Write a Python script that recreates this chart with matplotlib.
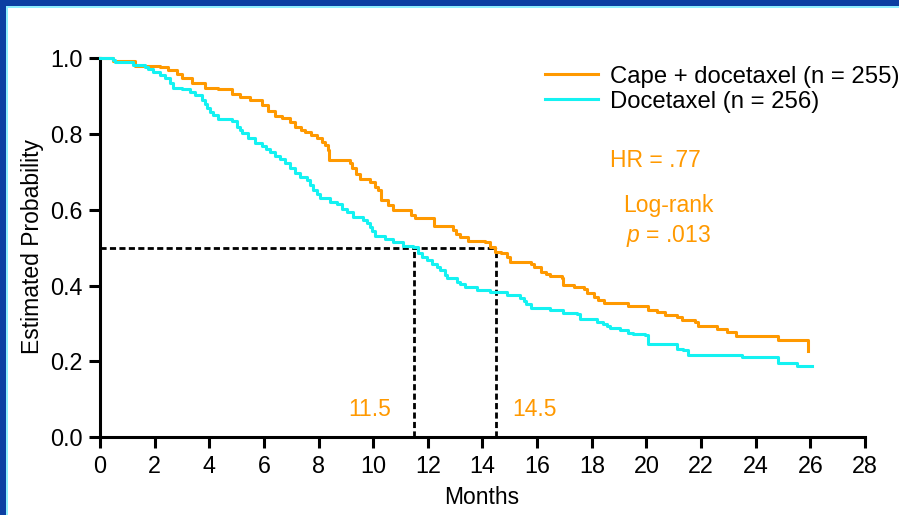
import matplotlib
matplotlib.use("Agg")
import matplotlib.pyplot as plt
from matplotlib.patches import Rectangle

plt.rcParams["font.family"] = ["Liberation Sans", "DejaVu Sans"]
plt.rcParams["mathtext.fontset"] = "custom"
plt.rcParams["mathtext.rm"] = "Liberation Sans"
plt.rcParams["mathtext.it"] = "Liberation Sans:italic"

# Kaplan-Meier step data (months, estimated probability)
cape_months = [0, 0.48, 1.28, 2.20, 2.49, 2.82, 3.00, 3.37, 3.84, 4.32,
               4.83, 5.12, 5.49, 5.93, 6.15, 6.41, 6.66, 6.95, 7.14, 7.36,
               7.50, 7.72, 7.94, 8.13, 8.24, 8.35, 8.40, 8.78, 9.15, 9.22,
               9.37, 9.52, 9.88, 10.07, 10.18, 10.27, 10.54, 10.72, 11.38, 11.53,
               12.21, 12.92, 13.03, 13.18, 13.47, 14.09, 14.28, 14.46, 14.68, 14.90,
               15.01, 15.78, 15.89, 16.14, 16.33, 16.47, 16.91, 16.95, 17.35, 17.72,
               17.83, 18.08, 18.23, 18.43, 19.31, 20.06, 20.39, 20.68, 21.12, 21.30,
               21.78, 21.89, 22.60, 22.95, 23.28, 24.82, 25.93]
cape_surv = [1.0, 0.991, 0.980, 0.975, 0.968, 0.959, 0.948, 0.935, 0.922, 0.917,
             0.906, 0.897, 0.890, 0.875, 0.860, 0.846, 0.841, 0.831, 0.818, 0.811,
             0.805, 0.796, 0.788, 0.779, 0.770, 0.757, 0.732, 0.730, 0.723, 0.709,
             0.694, 0.682, 0.673, 0.660, 0.651, 0.625, 0.612, 0.599, 0.586, 0.577,
             0.557, 0.546, 0.537, 0.528, 0.518, 0.515, 0.502, 0.489, 0.485, 0.475,
             0.463, 0.458, 0.449, 0.436, 0.430, 0.424, 0.419, 0.401, 0.395, 0.392,
             0.381, 0.370, 0.362, 0.355, 0.345, 0.335, 0.329, 0.322, 0.317, 0.308,
             0.303, 0.293, 0.285, 0.278, 0.268, 0.256, 0.228]

doce_months = [0, 0.48, 0.55, 1.21, 1.65, 1.76, 1.94, 2.20, 2.38, 2.56,
               2.67, 3.00, 3.29, 3.48, 3.72, 3.84, 3.92, 4.03, 4.14, 4.32,
               4.83, 5.01, 5.12, 5.20, 5.42, 5.67, 5.93, 6.08, 6.22, 6.41,
               6.59, 6.77, 6.95, 7.14, 7.32, 7.58, 7.69, 7.80, 7.94, 8.05,
               8.42, 8.67, 8.86, 9.04, 9.26, 9.63, 9.77, 9.88, 9.96, 10.07,
               10.43, 10.72, 11.09, 11.46, 11.64, 11.79, 11.97, 12.15, 12.34, 12.45,
               12.63, 12.70, 13.07, 13.18, 13.36, 13.80, 14.28, 14.90, 15.37, 15.52,
               15.59, 15.78, 16.47, 16.95, 17.46, 17.57, 18.19, 18.41, 18.56, 18.67,
               19.03, 19.33, 19.51, 19.95, 20.07, 21.11, 21.35, 21.53, 23.49, 24.82,
               25.50, 26.05]
doce_surv = [1.0, 0.994, 0.989, 0.981, 0.977, 0.972, 0.963, 0.954, 0.946, 0.933,
             0.922, 0.919, 0.910, 0.902, 0.889, 0.878, 0.867, 0.857, 0.849, 0.840,
             0.833, 0.818, 0.810, 0.801, 0.788, 0.775, 0.768, 0.760, 0.752, 0.742,
             0.735, 0.723, 0.709, 0.696, 0.687, 0.678, 0.665, 0.652, 0.642, 0.632,
             0.621, 0.616, 0.603, 0.594, 0.581, 0.572, 0.565, 0.555, 0.543, 0.530,
             0.524, 0.515, 0.505, 0.502, 0.485, 0.476, 0.467, 0.458, 0.449, 0.441,
             0.428, 0.419, 0.410, 0.404, 0.397, 0.388, 0.384, 0.375, 0.366, 0.359,
             0.351, 0.342, 0.335, 0.328, 0.325, 0.313, 0.305, 0.299, 0.293, 0.287,
             0.283, 0.274, 0.272, 0.269, 0.246, 0.234, 0.230, 0.217, 0.211, 0.197,
             0.187, 0.187]

series_labels = ["Cape + docetaxel (n = 255)", "Docetaxel (n = 256)"]
median_months = [11.5, 14.5]   # docetaxel, cape + docetaxel
median_level = 0.5
x_ticks = list(range(0, 29, 2))
y_ticks = [0.0, 0.2, 0.4, 0.6, 0.8, 1.0]
y_tick_labels = ["0.0", "0.2", "0.4", "0.6", "0.8", "1.0"]

ORANGE = "#FF9900"
CYAN = "#14F2F2"

fig = plt.figure(figsize=(8.99, 5.15), dpi=100)
fig.patch.set_facecolor("white")

# slide frame: dark blue band along the top and left edges with a light rim
fig.add_artist(Rectangle((0, 1 - 6 / 515), 1, 6 / 515, transform=fig.transFigure,
                         facecolor="#0B3FA3", edgecolor="none", zorder=0))
fig.add_artist(Rectangle((0, 1 - 8 / 515), 1, 2 / 515, transform=fig.transFigure,
                         facecolor="#8FEFFF", edgecolor="none", zorder=0))
fig.add_artist(Rectangle((0, 0), 6 / 899, 1, transform=fig.transFigure,
                         facecolor="#0B3FA3", edgecolor="none", zorder=0))
fig.add_artist(Rectangle((6 / 899, 0), 2 / 899, 1 - 6 / 515, transform=fig.transFigure,
                         facecolor="#8FEFFF", edgecolor="none", zorder=0))

ax = fig.add_axes([0.1112, 0.1509, 0.8510, 0.7365])
ax.set_xlim(0, 28)
ax.set_ylim(0, 1.0)

# median guides
dash = (0, (2.2, 1.2))
ax.plot([0, median_months[1]], [median_level, median_level], color="black",
        lw=2.0, ls=dash, zorder=2, clip_on=False)
for m in median_months:
    ax.plot([m, m], [0, median_level], color="black", lw=2.0,
            ls=dash, zorder=2, clip_on=False)

l1, = ax.step(cape_months, cape_surv, where="post", color=ORANGE, lw=2.2,
              zorder=3, clip_on=False, label=series_labels[0])
l2, = ax.step(doce_months, doce_surv, where="post", color=CYAN, lw=2.2,
              zorder=4, clip_on=False, label=series_labels[1])

for side in ("top", "right"):
    ax.spines[side].set_visible(False)
for side in ("left", "bottom"):
    ax.spines[side].set_linewidth(2.2)
ax.spines["left"].set_bounds(0, 1.0)
ax.spines["bottom"].set_bounds(0, 28)

ax.set_xticks(x_ticks)
ax.set_yticks(y_ticks)
ax.set_yticklabels(y_tick_labels)
ax.tick_params(axis="both", direction="out", length=8, width=2.2,
               labelsize=16.8, pad=4.5, colors="black")

fig.text(33 / 899, 1 - 247 / 515, "Estimated Probability", rotation=90,
         ha="center", va="center", fontsize=16.5)
fig.text(482 / 899, 1 - 497 / 515, "Months", ha="center", va="center",
         fontsize=16.5)

ax.legend(handles=[l1, l2], loc="upper left",
          bbox_to_anchor=(545 / 899, 1 - 65.5 / 515), bbox_transform=fig.transFigure,
          frameon=False, borderpad=0, borderaxespad=0, handlelength=2.2,
          handletextpad=0.5, labelspacing=0.13, fontsize=17.2)

ax.text(20.31, 0.730, "HR = .77", color=ORANGE, fontsize=16.5,
        ha="center", va="center")
ax.text(20.79, 0.612, "Log-rank", color=ORANGE, fontsize=16.5,
        ha="center", va="center")
ax.text(20.79, 0.530, r"$\it{p}$ = .013", color=ORANGE, fontsize=16.5,
        ha="center", va="center")
ax.text(9.88, 0.072, f"{median_months[0]}", color=ORANGE, fontsize=16.5,
        ha="center", va="center")
ax.text(15.92, 0.072, f"{median_months[1]}", color=ORANGE, fontsize=16.5,
        ha="center", va="center")

fig.savefig("out.png", dpi=100, facecolor="white")
